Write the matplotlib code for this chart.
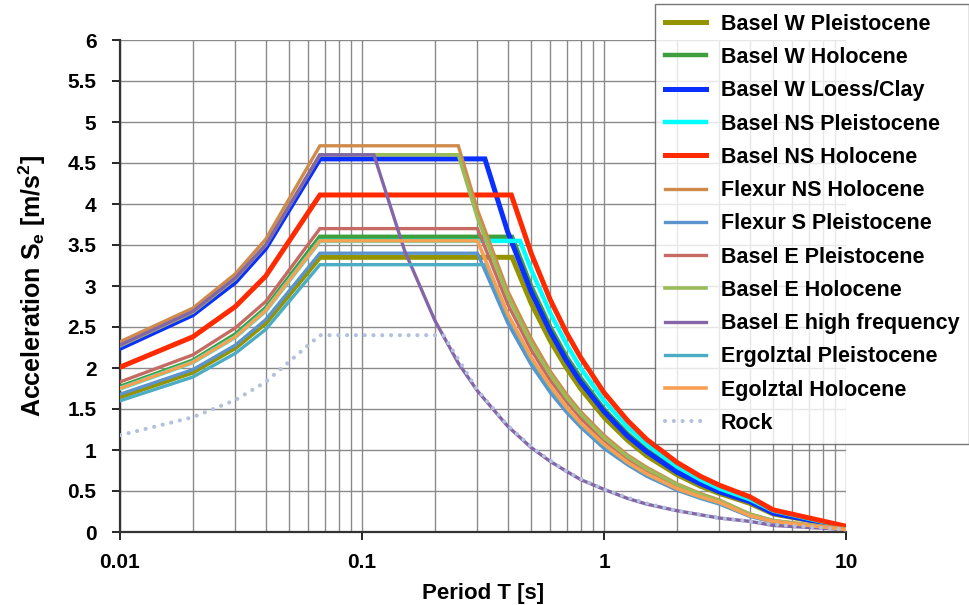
import matplotlib
matplotlib.use("Agg")
import matplotlib.pyplot as plt
from matplotlib.ticker import FixedLocator, NullFormatter

plt.rcParams["font.family"] = "Liberation Sans"
plt.rcParams["font.weight"] = "bold"
plt.rcParams["mathtext.fontset"] = "custom"
plt.rcParams["mathtext.rm"] = "Liberation Sans:bold"
plt.rcParams["mathtext.bf"] = "Liberation Sans:bold"

# periods [s] and spectral accelerations [m/s2]
t_w_pleist = [0.01, 0.02, 0.03, 0.04, 0.067, 0.417, 0.5, 0.6, 0.7, 0.8, 1, 1.25, 1.5, 2, 2.5, 3, 4, 5, 10]
se_w_pleist = [1.65, 1.95, 2.25, 2.55, 3.35, 3.35, 2.79, 2.33, 2.00, 1.75, 1.40, 1.12, 0.93, 0.70, 0.56, 0.47, 0.35, 0.22, 0.06]

t_w_holo = [0.01, 0.02, 0.03, 0.04, 0.067, 0.417, 0.5, 0.6, 0.7, 0.8, 1, 1.25, 1.5, 2, 2.5, 3, 4, 5, 10]
se_w_holo = [1.77, 2.09, 2.41, 2.73, 3.60, 3.60, 3.00, 2.50, 2.14, 1.88, 1.50, 1.20, 1.00, 0.75, 0.60, 0.50, 0.38, 0.24, 0.06]

t_w_loess = [0.01, 0.02, 0.03, 0.04, 0.067, 0.322, 0.4, 0.5, 0.6, 0.7, 0.8, 1, 1.25, 1.5, 2, 2.5, 3, 4, 5, 10]
se_w_loess = [2.24, 2.65, 3.05, 3.46, 4.55, 4.55, 3.66, 2.93, 2.44, 2.09, 1.83, 1.47, 1.17, 0.98, 0.73, 0.59, 0.49, 0.37, 0.23, 0.06]

t_ns_pleist = [0.01, 0.02, 0.03, 0.04, 0.067, 0.45, 0.5, 0.6, 0.7, 0.8, 1, 1.25, 1.5, 2, 2.5, 3, 4, 5, 10]
se_ns_pleist = [1.75, 2.07, 2.38, 2.70, 3.55, 3.55, 3.20, 2.67, 2.29, 2.00, 1.60, 1.28, 1.07, 0.80, 0.64, 0.53, 0.40, 0.26, 0.06]

t_ns_holo = [0.01, 0.02, 0.03, 0.04, 0.067, 0.414, 0.5, 0.6, 0.7, 0.8, 1, 1.25, 1.5, 2, 2.5, 3, 4, 5, 10]
se_ns_holo = [2.01, 2.38, 2.75, 3.12, 4.11, 4.11, 3.40, 2.83, 2.43, 2.13, 1.70, 1.36, 1.13, 0.85, 0.68, 0.57, 0.43, 0.27, 0.07]

t_flex_ns = [0.01, 0.02, 0.03, 0.04, 0.067, 0.25, 0.3, 0.4, 0.5, 0.6, 0.7, 0.8, 1, 1.25, 1.5, 2, 2.5, 3, 4, 5, 10]
se_flex_ns = [2.32, 2.73, 3.15, 3.57, 4.71, 4.71, 3.93, 2.94, 2.36, 1.96, 1.68, 1.47, 1.18, 0.94, 0.79, 0.59, 0.47, 0.39, 0.22, 0.14, 0.04]

t_flex_s = [0.01, 0.02, 0.03, 0.04, 0.067, 0.3, 0.4, 0.5, 0.6, 0.7, 0.8, 1, 1.25, 1.5, 2, 2.5, 3, 4, 5, 10]
se_flex_s = [1.68, 1.98, 2.28, 2.59, 3.40, 3.40, 2.55, 2.04, 1.70, 1.46, 1.28, 1.02, 0.82, 0.68, 0.51, 0.41, 0.34, 0.19, 0.12, 0.03]

t_e_pleist = [0.01, 0.02, 0.03, 0.04, 0.067, 0.3, 0.4, 0.5, 0.6, 0.7, 0.8, 1, 1.25, 1.5, 2, 2.5, 3, 4, 5, 10]
se_e_pleist = [1.83, 2.16, 2.49, 2.81, 3.70, 3.70, 2.78, 2.22, 1.85, 1.59, 1.39, 1.11, 0.89, 0.74, 0.56, 0.44, 0.37, 0.21, 0.13, 0.03]

t_e_holo = [0.01, 0.02, 0.03, 0.04, 0.067, 0.25, 0.3, 0.4, 0.5, 0.6, 0.7, 0.8, 1, 1.25, 1.5, 2, 2.5, 3, 4, 5, 10]
se_e_holo = [2.27, 2.68, 3.09, 3.50, 4.60, 4.60, 3.83, 2.88, 2.30, 1.92, 1.64, 1.44, 1.15, 0.92, 0.77, 0.58, 0.46, 0.38, 0.22, 0.14, 0.03]

t_e_hf = [0.01, 0.02, 0.03, 0.04, 0.067, 0.112, 0.15, 0.2, 0.25, 0.3, 0.4, 0.5, 0.6, 0.7, 0.8, 1, 1.25, 1.5, 2, 2.5, 3, 4, 5, 10]
se_e_hf = [2.28, 2.69, 3.10, 3.50, 4.60, 4.60, 3.43, 2.58, 2.06, 1.72, 1.29, 1.03, 0.86, 0.74, 0.64, 0.52, 0.41, 0.34, 0.26, 0.21, 0.17, 0.13, 0.08, 0.03]

t_erg_pleist = [0.01, 0.02, 0.03, 0.04, 0.067, 0.324, 0.4, 0.5, 0.6, 0.7, 0.8, 1, 1.25, 1.5, 2, 2.5, 3, 4, 5, 10]
se_erg_pleist = [1.60, 1.89, 2.18, 2.47, 3.26, 3.26, 2.63, 2.10, 1.75, 1.50, 1.31, 1.05, 0.84, 0.70, 0.53, 0.42, 0.35, 0.20, 0.13, 0.03]

t_erg_holo = [0.01, 0.02, 0.03, 0.04, 0.067, 0.3, 0.4, 0.5, 0.6, 0.7, 0.8, 1, 1.25, 1.5, 2, 2.5, 3, 4, 5, 10]
se_erg_holo = [1.75, 2.07, 2.38, 2.70, 3.55, 3.55, 2.66, 2.13, 1.78, 1.52, 1.33, 1.07, 0.85, 0.71, 0.53, 0.43, 0.36, 0.20, 0.13, 0.03]

t_rock = [0.01, 0.02, 0.03, 0.04, 0.067, 0.217, 0.3, 0.4, 0.5, 0.6, 0.7, 0.8, 1, 1.25, 1.5, 2, 2.5, 3, 4, 5, 10]
se_rock = [1.18, 1.40, 1.61, 1.83, 2.40, 2.40, 1.73, 1.30, 1.04, 0.87, 0.74, 0.65, 0.52, 0.42, 0.35, 0.26, 0.21, 0.17, 0.13, 0.09, 0.03]

labels = [
    "Basel W Pleistocene", "Basel W Holocene", "Basel W Loess/Clay",
    "Basel NS Pleistocene", "Basel NS Holocene", "Flexur NS Holocene",
    "Flexur S Pleistocene", "Basel E Pleistocene", "Basel E Holocene",
    "Basel E high frequency", "Ergolztal Pleistocene", "Egolztal Holocene", "Rock",
]
periods = [t_w_pleist, t_w_holo, t_w_loess, t_ns_pleist, t_ns_holo, t_flex_ns,
           t_flex_s, t_e_pleist, t_e_holo, t_e_hf, t_erg_pleist, t_erg_holo, t_rock]
accels = [se_w_pleist, se_w_holo, se_w_loess, se_ns_pleist, se_ns_holo, se_flex_ns,
          se_flex_s, se_e_pleist, se_e_holo, se_e_hf, se_erg_pleist, se_erg_holo, se_rock]

colors = ["#949400", "#3f9f3f", "#0a30ff", "#00ffff", "#ff2a00", "#d08b4c",
          "#5b93cc", "#c66a64", "#9bbb59", "#8466a8", "#4bacc6", "#f7a054", "#b4c0dc"]
widths = [3.6, 3.2, 3.6, 3.2, 3.6, 2.4, 2.4, 2.4, 2.6, 2.4, 2.4, 2.6, 3.0]

fig = plt.figure(figsize=(9.69, 6.05), dpi=100)
ax = fig.add_axes([120 / 969, 1 - 532 / 605, 726 / 969, 492 / 605])

for t, s, lab, c, w in zip(periods, accels, labels, colors, widths):
    if lab == "Rock":
        ax.plot(t, s, color=c, lw=w, linestyle=(0, (0.01, 2.1)),
                dash_capstyle="round", label=lab, zorder=3)
    else:
        ax.plot(t, s, color=c, lw=w, label=lab, solid_joinstyle="miter", zorder=3)

ax.set_xscale("log")
ax.set_xlim(0.01, 10)
ax.set_ylim(0, 6)

ax.xaxis.set_major_locator(FixedLocator([0.01, 0.1, 1, 10]))
ax.set_xticklabels(["0.01", "0.1", "1", "10"])
minors = [m * d for d in (0.01, 0.1, 1) for m in range(2, 10)]
ax.xaxis.set_minor_locator(FixedLocator(minors))
ax.xaxis.set_minor_formatter(NullFormatter())

yt = [i * 0.5 for i in range(13)]
ax.set_yticks(yt)
ax.set_yticklabels(["0", "0.5", "1", "1.5", "2", "2.5", "3", "3.5", "4", "4.5", "5", "5.5", "6"])

ax.grid(True, which="both", color="#8a8a8a", lw=1.0)
ax.set_axisbelow(True)
ax.tick_params(axis="both", which="major", direction="out", length=6, width=1.2,
               labelsize=15)
ax.tick_params(axis="y", pad=11)
ax.tick_params(axis="x", pad=9)
ax.tick_params(which="minor", length=0)

for side in ("top", "right"):
    ax.spines[side].set_visible(False)
for side in ("left", "bottom"):
    ax.spines[side].set_linewidth(1.6)
    ax.spines[side].set_color("#333333")

ax.set_xlabel("Period T [s]", fontsize=16, fontweight="bold", labelpad=8)
ax.set_ylabel(r"Acceleration S$_{\mathbf{e}}$ [m/s$^{\mathbf{2}}$]", fontsize=18,
              fontweight="bold", labelpad=14)

leg = fig.legend(loc="upper left", bbox_to_anchor=(655 / 969, 1 - 4 / 605),
                 fontsize=15.5, frameon=True, fancybox=False, handlelength=1.9,
                 handletextpad=0.7, labelspacing=0.57, borderpad=0.45,
                 borderaxespad=0)
leg.get_frame().set_edgecolor("#555555")
leg.get_frame().set_linewidth(1.0)

plt.savefig("out.png", dpi=100)
